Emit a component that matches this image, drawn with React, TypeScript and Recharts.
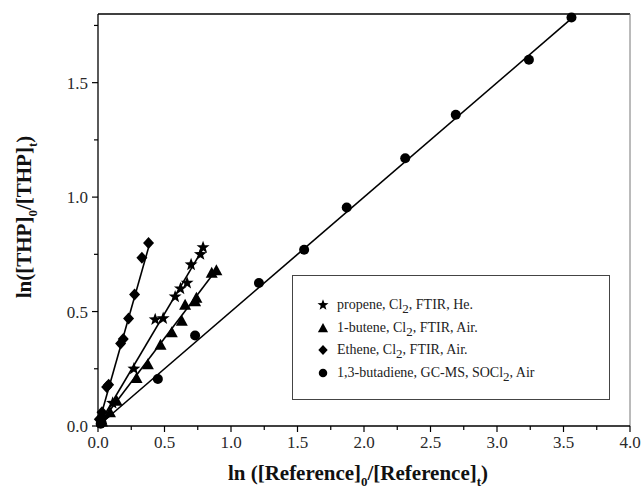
import React from "react";
import { ScatterChart, Scatter, XAxis, YAxis, ReferenceLine, Label } from "recharts";

// ethene (diamonds)
const etheneX = [0.01, 0.03, 0.065, 0.08, 0.17, 0.19, 0.23, 0.275, 0.33, 0.38];
const etheneY = [0.03, 0.06, 0.17, 0.18, 0.36, 0.38, 0.47, 0.575, 0.735, 0.8];
// propene (stars)
const propeneX = [0.04, 0.11, 0.27, 0.43, 0.49, 0.58, 0.62, 0.67, 0.7, 0.77, 0.79];
const propeneY = [0.03, 0.1, 0.25, 0.465, 0.47, 0.565, 0.6, 0.625, 0.705, 0.75, 0.78];
// 1-butene (triangles)
const buteneX = [0.03, 0.09, 0.14, 0.29, 0.375, 0.47, 0.555, 0.63, 0.655, 0.73, 0.74, 0.855, 0.89];
const buteneY = [0.02, 0.06, 0.11, 0.21, 0.27, 0.355, 0.41, 0.46, 0.53, 0.545, 0.56, 0.67, 0.68];
// 1,3-butadiene (circles)
const butadieneX = [0.02, 0.45, 0.73, 1.21, 1.55, 1.87, 2.31, 2.69, 3.24, 3.56];
const butadieneY = [0.01, 0.205, 0.395, 0.625, 0.77, 0.955, 1.17, 1.36, 1.6, 1.785];

// fitted lines, drawn from the origin to the end point
const etheneFit = [[0, 0], [0.39, 0.8]];
const propeneFit = [[0, 0], [0.8, 0.785]];
const buteneFit = [[0, 0], [0.9, 0.69]];
const butadieneFit = [[0, 0], [3.57, 1.785]];

const xTicks = [0, 0.25, 0.5, 0.75, 1, 1.25, 1.5, 1.75, 2, 2.25, 2.5, 2.75, 3, 3.25, 3.5, 3.75, 4];
const yTicks = [0, 0.25, 0.5, 0.75, 1, 1.25, 1.5, 1.75];

const SERIF = "'Liberation Serif', 'Times New Roman', serif";

const toPoints = (xs: number[], ys: number[]) => xs.map((x, i) => ({ x, y: ys[i] }));
const fitPoints = (f: number[][]) => f.map(([x, y]) => ({ x, y }));

/* ---------- marker shapes ---------- */
function starPath(cx: number, cy: number, R: number, r: number) {
  let d = "";
  for (let i = 0; i < 10; i++) {
    const rad = i % 2 === 0 ? R : r;
    const a = -Math.PI / 2 + (i * Math.PI) / 5;
    d += (i === 0 ? "M" : "L") + (cx + rad * Math.cos(a)).toFixed(2) + "," + (cy + rad * Math.sin(a)).toFixed(2);
  }
  return d + "Z";
}

const Star = (p: any) => <path d={starPath(p.cx, p.cy, 6.8, 2.8)} fill="#000" />;
const Triangle = (p: any) => (
  <path d={`M${p.cx},${p.cy - 6}L${p.cx + 6},${p.cy + 5}L${p.cx - 6},${p.cy + 5}Z`} fill="#000" />
);
const Diamond = (p: any) => (
  <path d={`M${p.cx},${p.cy - 6}L${p.cx + 5.5},${p.cy}L${p.cx},${p.cy + 6}L${p.cx - 5.5},${p.cy}Z`} fill="#000" />
);
const Dot = (p: any) => <circle cx={p.cx} cy={p.cy} r={5} fill="#000" />;
const NoShape = () => <g />;

/* ---------- ticks ---------- */
const isMajor = (v: number) => Math.abs(v * 2 - Math.round(v * 2)) < 1e-6;

const XTick = ({ x, y, payload }: any) => {
  const major = isMajor(payload.value);
  return (
    <g>
      <line x1={x} y1={y} x2={x} y2={y + (major ? 6 : 4)} stroke="#000" strokeWidth={1.2} />
      {major && (
        <text x={x} y={y + 22} textAnchor="middle" fontFamily={SERIF} fontSize={17} fill="#2a2a2a">
          {payload.value.toFixed(1)}
        </text>
      )}
    </g>
  );
};

const YTick = ({ x, y, payload }: any) => {
  const major = isMajor(payload.value);
  return (
    <g>
      <line x1={x} y1={y} x2={x - (major ? 6 : 4)} y2={y} stroke="#000" strokeWidth={1.2} />
      {major && (
        <text x={x - 10} y={y + 6} textAnchor="end" fontFamily={SERIF} fontSize={17} fill="#2a2a2a">
          {payload.value.toFixed(1)}
        </text>
      )}
    </g>
  );
};

/* ---------- axis titles ---------- */
const XTitle = () => (
  <text x={358} y={480} textAnchor="middle" fontFamily={SERIF} fontWeight="bold" fontSize={21} fill="#111">
    ln ([Reference]
    <tspan dy={6} fontSize={13}>0</tspan>
    <tspan dy={-6}>/[Reference]</tspan>
    <tspan dy={6} fontSize={13}>t</tspan>
    <tspan dy={-6}>)</tspan>
  </text>
);

const YTitle = () => (
  <text
    x={31}
    y={217}
    transform="rotate(-90, 31, 217)"
    textAnchor="middle"
    fontFamily={SERIF}
    fontWeight="bold"
    fontSize={21}
    fill="#111"
  >
    ln([THP]
    <tspan dy={6} fontSize={13}>0</tspan>
    <tspan dy={-6}>/[THP]</tspan>
    <tspan dy={6} fontSize={13}>t</tspan>
    <tspan dy={-6}>)</tspan>
  </text>
);

/* ---------- legend ---------- */
const legendItems = [
  { shape: Star, pre: "propene, Cl", sub: "2", post: ", FTIR, He." },
  { shape: Triangle, pre: "1-butene, Cl", sub: "2", post: ", FTIR, Air." },
  { shape: Diamond, pre: "Ethene, Cl", sub: "2", post: ", FTIR, Air." },
  { shape: Dot, pre: "1,3-butadiene, GC-MS, SOCl", sub: "2", post: ", Air" },
];

function LegendBox() {
  return (
    <div
      style={{
        position: "absolute",
        left: 292,
        top: 275,
        width: 318,
        height: 125,
        border: "1px solid #444",
        fontFamily: SERIF,
        fontSize: 14,
        color: "#222",
        boxSizing: "border-box",
      }}
    >
      {legendItems.map((it, i) => {
        const Shape = it.shape;
        return (
          <div
            key={i}
            style={{ position: "absolute", left: 22, top: 20 + i * 22.5, height: 18, display: "flex", alignItems: "center" }}
          >
            <svg width={16} height={16} style={{ marginRight: 6 }}>
              <g transform="translate(8,8) scale(0.85) translate(-8,-8)">
                <Shape cx={8} cy={8} />
              </g>
            </svg>
            <span style={{ whiteSpace: "nowrap" }}>
              {it.pre}
              <span style={{ fontSize: 13, position: "relative", top: 4 }}>{it.sub}</span>
              {it.post}
            </span>
          </div>
        );
      })}
    </div>
  );
}

export default function App() {
  const lineStyle = { stroke: "#000", strokeWidth: 1.6 };
  return (
    <div style={{ position: "absolute", left: 0, top: 0, width: 643, height: 489, background: "#fff" }}>
      <ScatterChart width={643} height={489} margin={{ top: 14, right: 13, left: 0, bottom: 0 }}>
        <XAxis
          type="number"
          dataKey="x"
          domain={[0, 4]}
          ticks={xTicks}
          interval={0}
          height={63}
          tickSize={0}
          tickMargin={0}
          tick={<XTick />}
          axisLine={{ stroke: "#000", strokeWidth: 1.3 }}
        >
          <Label content={<XTitle />} />
        </XAxis>
        <YAxis
          type="number"
          dataKey="y"
          domain={[0, 1.8]}
          ticks={yTicks}
          interval={0}
          width={98}
          tickSize={0}
          tickMargin={0}
          tick={<YTick />}
          axisLine={{ stroke: "#000", strokeWidth: 1.3 }}
        >
          <Label content={<YTitle />} />
        </YAxis>
        <ReferenceLine y={1.8} stroke="#000" strokeWidth={1.5} />
        <ReferenceLine x={4} stroke="#777" strokeWidth={1} />

        <Scatter data={fitPoints(butadieneFit)} line={lineStyle} shape={NoShape} isAnimationActive={false} />
        <Scatter data={fitPoints(buteneFit)} line={lineStyle} shape={NoShape} isAnimationActive={false} />
        <Scatter data={fitPoints(propeneFit)} line={lineStyle} shape={NoShape} isAnimationActive={false} />
        <Scatter data={fitPoints(etheneFit)} line={lineStyle} shape={NoShape} isAnimationActive={false} />

        <Scatter data={toPoints(butadieneX, butadieneY)} shape={Dot} isAnimationActive={false} />
        <Scatter data={toPoints(buteneX, buteneY)} shape={Triangle} isAnimationActive={false} />
        <Scatter data={toPoints(propeneX, propeneY)} shape={Star} isAnimationActive={false} />
        <Scatter data={toPoints(etheneX, etheneY)} shape={Diamond} isAnimationActive={false} />
      </ScatterChart>
      <LegendBox />
    </div>
  );
}
